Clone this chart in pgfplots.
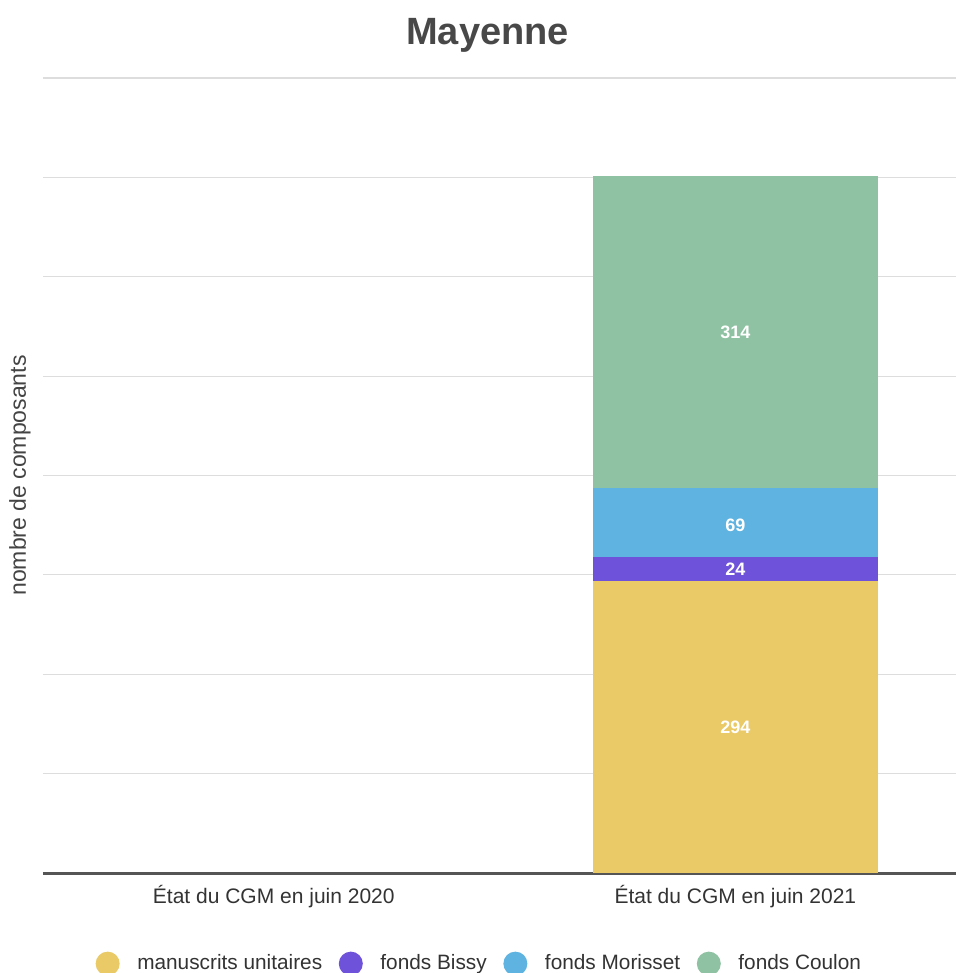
\documentclass[border=0pt]{standalone}
\usepackage{pgfplots}
\pgfplotsset{compat=1.18}
\usepackage{fontspec}
\setmainfont{Liberation Sans}

\definecolor{cYellow}{HTML}{EAC967}
\definecolor{cPurple}{HTML}{6E52D9}
\definecolor{cBlue}{HTML}{5EB3E1}
\definecolor{cGreen}{HTML}{8EC2A2}
\definecolor{gridgrey}{HTML}{DDDDDD}
\definecolor{basegrey}{HTML}{555555}
\definecolor{txtgrey}{HTML}{333333}

\pgfplotsset{
    circlegend/.style={
        legend image code/.code={\path[draw=none, fill=none] (0pt,-6pt) rectangle (18.8pt,6pt);
            \fill[#1, draw=none] (6pt,0pt) circle (6pt);}},
}

\begin{document}
\begin{tikzpicture}
\begin{axis}[
    scale only axis,
    width=456.5pt, height=397.5pt,
    at={(0,0)}, anchor=south west,
    ybar stacked,
    bar width=142.5pt,
    xmin=-0.5, xmax=1.478,
    ymin=0, ymax=800,
    xtick={0,1},
    xticklabels={État du CGM en juin 2020, État du CGM en juin 2021},
    xticklabel style={font=\fontsize{10.5}{12}\selectfont, text=txtgrey, yshift=-2.5pt},
    ytick={100,200,...,800},
    yticklabels={},
    extra y ticks={0},
    extra y tick labels={},
    extra y tick style={grid style={basegrey, line width=1.5pt}},
    ymajorgrids,
    grid style={gridgrey, line width=0.6pt},
    major tick length=0pt,
    axis line style={draw=none},
    /pgf/number format/assume math mode=true,
    title={Mayenne},
    title style={font=\bfseries\fontsize{19}{22}\selectfont, text=basegrey!85!black,
        at={(axis description cs:0.487,1)}, anchor=center, yshift=15.5pt},
    ylabel={nombre de composants},
    ylabel style={font=\fontsize{11.5}{13}\selectfont, text=basegrey!80!black,
        at={(axis description cs:-0.0252,0.5)}, anchor=center},
    nodes near coords,
    every node near coord/.append style={font=\bfseries\fontsize{9}{10}\selectfont, text=white, anchor=center},
    legend columns=-1,
    legend style={draw=none, font=\fontsize{10.4}{12}\selectfont, text=txtgrey,
        at={(axis description cs:0.479,-0.114)}, anchor=center,
        /tikz/every even column/.style={column sep=6.3pt}},
]
\addplot[fill=cYellow, draw=none, forget plot]
    coordinates {(1,294)};
\addplot[fill=cPurple, draw=none, forget plot]
    coordinates {(1,24)};
\addplot[fill=cBlue, draw=none, forget plot, every node near coord/.append style={yshift=-1.5pt}]
    coordinates {(1,69)};
\addplot[fill=cGreen, draw=none, forget plot]
    coordinates {(1,314)};
\addlegendimage{circlegend, fill=cYellow}
\addlegendentry{manuscrits unitaires}
\addlegendimage{circlegend, fill=cPurple}
\addlegendentry{fonds Bissy}
\addlegendimage{circlegend, fill=cBlue}
\addlegendentry{fonds Morisset}
\addlegendimage{circlegend, fill=cGreen}
\addlegendentry{fonds Coulon}
\end{axis}
\pgfresetboundingbox
\path (-21.5pt,-50pt) rectangle (456.5pt,436.5pt);
\end{tikzpicture}
\end{document}
